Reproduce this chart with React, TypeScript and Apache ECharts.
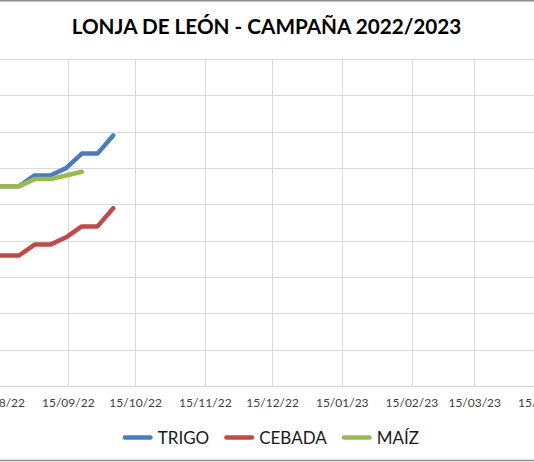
import React, { useEffect, useRef } from "react";
import * as echarts from "echarts";

// ---- data ----
const TITLE = "LONJA DE LEÓN - CAMPAÑA 2022/2023";
const AXIS_START = "2022-08-01";
const AXIS_END = "2023-04-30";
const DATES = ["10/08/22", "17/08/22", "24/08/22", "31/08/22", "07/09/22", "14/09/22", "21/09/22", "28/09/22", "05/10/22"];
const TRIGO = [310, 310, 310, 316, 316, 320, 328, 328, 338];
const CEBADA = [272, 272, 272, 278, 278, 282, 288, 288, 298];
const MAIZ = [310, 310, 310, 314, 314, 316, 318];
const SERIES_NAMES = ["TRIGO", "CEBADA", "MAÍZ"];
const COLORS = ["#4A7EBB", "#BE4B48", "#98B954"];
const Y_MIN = 200;
const Y_MAX = 380;
const Y_STEP = 20;

function pad(n: number) {
  return n < 10 ? "0" + n : "" + n;
}
function buildCategories(start: string, end: string) {
  const out: string[] = [];
  const d = new Date(start + "T12:00:00Z");
  const e = new Date(end + "T12:00:00Z");
  while (d.getTime() <= e.getTime()) {
    out.push(pad(d.getUTCDate()) + "/" + pad(d.getUTCMonth() + 1) + "/" + String(d.getUTCFullYear()).slice(2));
    d.setUTCDate(d.getUTCDate() + 1);
  }
  return out;
}

const FONT = "Lato, 'Open Sans', sans-serif";
const OFFSET = 100; // chart div is shifted left by this amount (cropped chart)
const LEGEND_ICON = "path://M2.25,0 L27.75,0 A2.25,2.25 0 0 1 27.75,4.5 L2.25,4.5 A2.25,2.25 0 0 1 2.25,0 Z";

export default function App() {
  const ref = useRef<HTMLDivElement>(null);
  useEffect(() => {
    if (!ref.current) return;
    const chart = echarts.init(ref.current, null, { renderer: "svg" });
    const cats = buildCategories(AXIS_START, AXIS_END);
    const pairs = (vals: number[]) => vals.map((v, i) => [DATES[i], v]);
    const isMid = (_i: number, v: string) => v.startsWith("15/");
    const seriesVals = [TRIGO, CEBADA, MAIZ];
    chart.setOption({
      animation: false,
      backgroundColor: "#ffffff",
      graphic: [
        {
          type: "text",
          x: OFFSET + 266.5,
          y: 26.3,
          style: {
            text: TITLE,
            fill: "#000000",
            font: "bold 20.7px " + FONT,
            align: "center",
            verticalAlign: "middle",
          },
        },
        { type: "rect", shape: { x: OFFSET, y: 0, width: 534, height: 1.5 }, style: { fill: "#8c8c8c" } },
        { type: "rect", shape: { x: OFFSET, y: 459.8, width: 534, height: 1.5 }, style: { fill: "#8c8c8c" } },
      ],
      legend: {
        left: OFFSET + 122.7,
        top: 429,
        padding: 0,
        itemWidth: 30,
        itemHeight: 4.5,
        itemGap: 15,
        icon: LEGEND_ICON,
        textStyle: { fontFamily: FONT, fontSize: 17, color: "#1a1a1a" },
        data: SERIES_NAMES,
      },
      grid: { left: 67.27, right: 62, top: 59, bottom: 75.5, containLabel: false },
      xAxis: {
        type: "category",
        data: cats,
        boundaryGap: false,
        axisLine: { lineStyle: { color: "#d0d0d0", width: 1 } },
        axisTick: { show: false },
        splitLine: { show: true, interval: isMid, lineStyle: { color: "#d9d9d9", width: 1 } },
        axisLabel: {
          interval: isMid,
          margin: 10,
          fontFamily: FONT,
          fontSize: 12,
          color: "#404040",
        },
      },
      yAxis: {
        type: "value",
        min: Y_MIN,
        max: Y_MAX,
        interval: Y_STEP,
        axisLine: { show: false },
        axisTick: { show: false },
        axisLabel: { show: false },
        splitLine: { lineStyle: { color: "#d9d9d9", width: 1 } },
      },
      series: SERIES_NAMES.map((name, i) => ({
        name,
        type: "line",
        data: pairs(seriesVals[i]),
        symbol: "none",
        showSymbol: false,
        color: COLORS[i],
        itemStyle: { color: COLORS[i] },
        lineStyle: { color: COLORS[i], width: 4.5, cap: "round", join: "round" },
      })),
    });
    return () => chart.dispose();
  }, []);
  return (
    <div
      style={{
        position: "fixed",
        left: 0,
        top: 0,
        width: 534,
        height: 462,
        overflow: "hidden",
        background: "#ffffff",
      }}
    >
      <div ref={ref} style={{ position: "absolute", left: -OFFSET, top: 0, width: 740, height: 462 }} />
    </div>
  );
}
